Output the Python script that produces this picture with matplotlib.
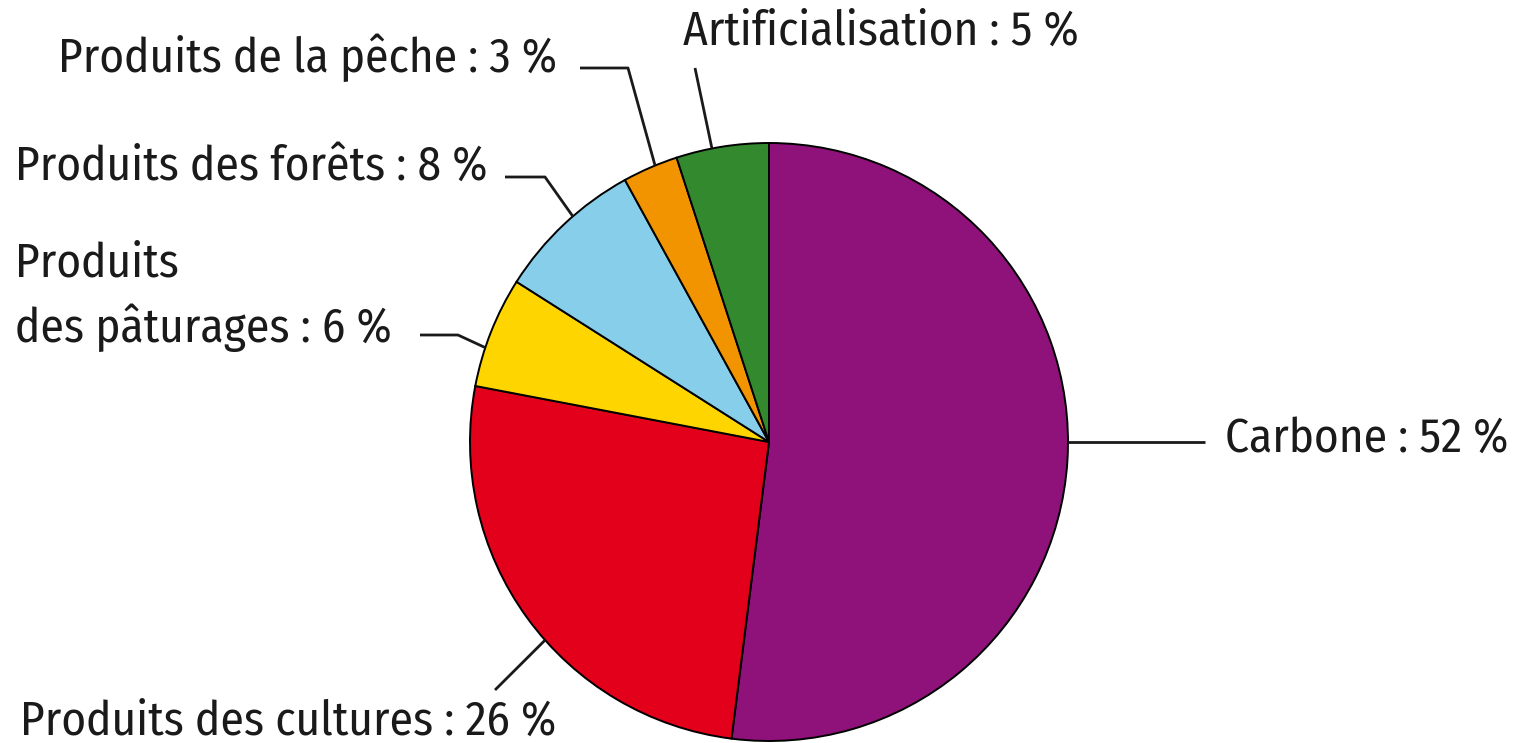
import matplotlib
matplotlib.use('Agg')
import matplotlib.pyplot as plt
import numpy as np

# data
labels = ['Carbone : 52 %', 'Produits des cultures : 26 %', 'Produits\ndes pâturages : 6 %',
          'Produits des forêts : 8 %', 'Produits de la pêche : 3 %', 'Artificialisation : 5 %']
values = [52, 26, 6, 8, 3, 5]
colors = ['#8e1279', '#e2001a', '#ffd500', '#87ceeb', '#f29400', '#338a2e']

W, H = 1529, 743
fig = plt.figure(figsize=(W / 100, H / 100), dpi=100)
ax = fig.add_axes([0, 0, 1, 1])

cx, cy, r = 769, H - 442, 299
ax.pie(values, colors=colors, startangle=90, counterclock=False,
       center=(cx, cy), radius=r,
       wedgeprops=dict(edgecolor='black', linewidth=1.4))

# pie() resets the limits, so set them afterwards
ax.set_xlim(0, W)
ax.set_ylim(0, H)
ax.set_aspect('equal')
ax.axis('off')

font = ['Fira Sans Condensed', 'Liberation Sans Narrow', 'DejaVu Sans']
fs = 34

# leader lines: anchor angle on the rim, then bend points (pixel, top origin)
leaders = [
    (0, [(1205, 442)]),
    (221.5, [(495, 690)]),
    (161.6, [(458, 335), (420, 335)]),
    (131, [(545, 177), (505, 177)]),
    (112.4, [(628, 68), (580, 68)]),
    (101, [(695, 68)]),
]
text_pos = [(1225, 452), (20, 735), (15, 342), (15, 180), (58, 72), (683, 45)]

for (ang, pts), lab, (tx, ty) in zip(leaders, labels, text_pos):
    a = np.radians(ang)
    xs = [cx + r * np.cos(a)] + [p[0] for p in pts]
    ys = [cy + r * np.sin(a)] + [H - p[1] for p in pts]
    ax.plot(xs, ys, color='#1a1a1a', lw=2, solid_capstyle='butt')
    ax.text(tx, H - ty, lab, family=font, fontsize=fs, color='#1a1a1a',
            ha='left', va='baseline', linespacing=1.45)

fig.savefig('out.png', dpi=100)
